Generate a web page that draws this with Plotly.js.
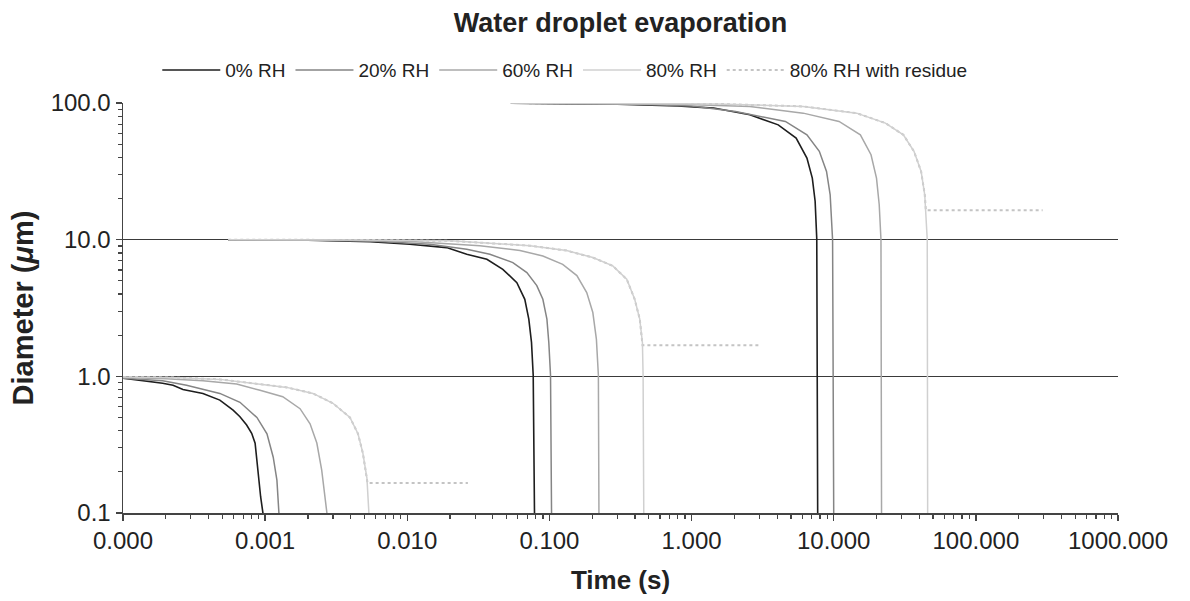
<!DOCTYPE html>
<html>
<head>
<meta charset="utf-8">
<script src="https://cdn.plot.ly/plotly-3.0.1.min.js"></script>
<style>html,body{margin:0;padding:0;background:#fff;}#chart{width:1190px;height:601px;}</style>
</head>
<body>
<div id="chart"></div>
<script>
// ---- Data (time in s, diameter in µm) ----
const seriesNames = ['0% RH', '20% RH', '60% RH', '80% RH', '80% RH with residue'];

// 1 µm initial diameter
const t_1um_rh0  = [1e-4, 1.4e-4, 1.9e-4, 2.25e-4, 2.64e-4, 3.65e-4, 4.8e-4, 5.95e-4, 6.65e-4, 7.41e-4, 8.04e-4, 8.5e-4, 8.7e-4, 8.93e-4, 9.3e-4, 9.65e-4, 9.8e-4];
const d_1um_rh0  = [0.97, 0.93, 0.89, 0.86, 0.80, 0.75, 0.67, 0.565, 0.506, 0.44, 0.383, 0.324, 0.258, 0.185, 0.131, 0.10, 0.05];
const t_1um_rh20 = [1e-4, 1.9e-4, 2.8e-4, 4.8e-4, 6.65e-4, 8.75e-4, 1.03e-3, 1.14e-3, 1.21e-3, 1.25e-3, 1.27e-3];
const d_1um_rh20 = [0.97, 0.93, 0.86, 0.75, 0.646, 0.50, 0.38, 0.256, 0.174, 0.10, 0.05];
const t_1um_rh60 = [1e-4, 2.0e-4, 3.65e-4, 6.3e-4, 9.2e-4, 1.33e-3, 1.76e-3, 2.07e-3, 2.31e-3, 2.5e-3, 2.72e-3, 2.75e-3];
const d_1um_rh60 = [0.98, 0.96, 0.93, 0.88, 0.79, 0.71, 0.58, 0.45, 0.325, 0.206, 0.10, 0.05];
const t_1um_rh80 = [1e-4, 2.2e-4, 4.8e-4, 8.2e-4, 1.42e-3, 2.17e-3, 3.0e-3, 3.95e-3, 4.5e-3, 4.87e-3, 5.2e-3, 5.37e-3, 5.4e-3];
const d_1um_rh80 = [0.99, 0.98, 0.95, 0.89, 0.83, 0.75, 0.635, 0.50, 0.38, 0.274, 0.18, 0.10, 0.05];
const t_1um_res  = [1e-4, 2.2e-4, 4.8e-4, 8.2e-4, 1.42e-3, 2.17e-3, 3.0e-3, 3.95e-3, 4.5e-3, 4.87e-3, 5.25e-3, 2.67e-2];
const d_1um_res  = [0.99, 0.98, 0.95, 0.89, 0.83, 0.75, 0.635, 0.50, 0.38, 0.274, 0.166, 0.166];

// 10 µm initial diameter
const t_10um_rh0  = [5.5e-4, 2e-3, 5.5e-3, 0.0104, 0.0189, 0.0262, 0.0363, 0.047, 0.059, 0.0671, 0.0716, 0.0748, 0.0769, 0.0789, 0.079];
const d_10um_rh0  = [9.97, 9.9, 9.65, 9.25, 8.75, 7.82, 7.18, 6.07, 4.85, 3.66, 2.62, 1.77, 1.02, 0.10, 0.05];
const t_10um_rh20 = [5.5e-4, 2e-3, 6e-3, 0.0144, 0.0262, 0.0381, 0.0553, 0.0694, 0.0815, 0.0899, 0.096, 0.099, 0.1018, 0.1035, 0.104];
const d_10um_rh20 = [9.98, 9.93, 9.75, 9.25, 8.5, 7.82, 6.8, 5.74, 4.61, 3.66, 2.62, 1.77, 1.02, 0.10, 0.05];
const t_10um_rh60 = [5.5e-4, 3e-3, 0.01, 0.0324, 0.062, 0.0899, 0.124, 0.156, 0.183, 0.202, 0.214, 0.221, 0.223, 0.224];
const d_10um_rh60 = [9.98, 9.95, 9.75, 9.04, 8.32, 7.6, 6.6, 5.46, 4.1, 2.93, 1.87, 1.02, 0.10, 0.05];
const t_10um_rh80 = [5.5e-4, 5e-3, 0.02, 0.0728, 0.132, 0.202, 0.279, 0.35, 0.398, 0.432, 0.451, 0.456, 0.461, 0.462];
const d_10um_rh80 = [9.99, 9.95, 9.8, 9.04, 8.32, 7.4, 6.43, 5.13, 3.66, 2.62, 1.77, 1.02, 0.10, 0.05];
const t_10um_res  = [5.5e-4, 5e-3, 0.02, 0.0728, 0.132, 0.202, 0.279, 0.35, 0.398, 0.432, 0.452, 3.02];
const d_10um_res  = [9.99, 9.95, 9.8, 9.04, 8.32, 7.4, 6.43, 5.13, 3.66, 2.62, 1.69, 1.69];

// 100 µm initial diameter
const t_100um_rh0  = [0.0536, 0.3, 0.8, 1.43, 2.57, 4.07, 5.44, 6.48, 7.07, 7.4, 7.6, 7.72, 7.73];
const d_100um_rh0  = [99.6, 98, 95, 91.8, 82, 69.2, 55.4, 39.5, 28.2, 19.1, 10.1, 0.10, 0.05];
const t_100um_rh20 = [0.0536, 0.4, 1.0, 2.04, 4.57, 6.48, 7.92, 8.9, 9.44, 9.82, 10.0, 10.02];
const d_100um_rh20 = [99.7, 98, 95, 86.7, 73.3, 58.5, 44.3, 31.6, 21.3, 10, 0.10, 0.05];
const t_100um_rh60 = [0.0536, 0.8, 2.57, 6.1, 10.9, 15.4, 18.3, 20.0, 20.9, 21.5, 21.7, 21.75];
const d_100um_rh60 = [99.8, 98, 94.4, 84.3, 73.3, 58.5, 41.8, 28.2, 18, 10, 0.10, 0.05];
const t_100um_rh80 = [0.0536, 1.5, 6.1, 14.5, 23.1, 30.9, 36.7, 41.2, 43.7, 45.5, 45.8, 45.85];
const d_100um_rh80 = [99.9, 98.5, 94.4, 84.3, 71.3, 58.5, 44.3, 31.6, 21.3, 10, 0.10, 0.05];
const t_100um_res  = [0.0536, 1.5, 6.1, 14.5, 23.1, 30.9, 36.7, 41.2, 43.7, 44.5, 295];
const d_100um_res  = [99.9, 98.5, 94.4, 84.3, 71.3, 58.5, 44.3, 31.6, 21.3, 16.4, 16.4];

const xTickFormat = '.3f';
const yTickFormat = '.1f';

// ---- Build traces: one per legend entry, droplet sizes separated by gaps ----
function join(parts) {
  const out = [];
  parts.forEach((p, i) => { if (i > 0) out.push(null); out.push(...p); });
  return out;
}
const groups = [
  [[t_1um_rh0, t_10um_rh0, t_100um_rh0], [d_1um_rh0, d_10um_rh0, d_100um_rh0]],
  [[t_1um_rh20, t_10um_rh20, t_100um_rh20], [d_1um_rh20, d_10um_rh20, d_100um_rh20]],
  [[t_1um_rh60, t_10um_rh60, t_100um_rh60], [d_1um_rh60, d_10um_rh60, d_100um_rh60]],
  [[t_1um_rh80, t_10um_rh80, t_100um_rh80], [d_1um_rh80, d_10um_rh80, d_100um_rh80]],
  [[t_1um_res, t_10um_res, t_100um_res], [d_1um_res, d_10um_res, d_100um_res]]
];
const styles = [
  {color: '#1e1e1e', width: 1.6, dash: 'solid'},
  {color: '#858585', width: 1.5, dash: 'solid'},
  {color: '#a8a8a8', width: 1.5, dash: 'solid'},
  {color: '#d0d0d0', width: 1.5, dash: 'solid'},
  {color: '#c4c4c4', width: 2, dash: 'dot'}
];
const traces = groups.map((g, i) => ({
  type: 'scatter', mode: 'lines',
  name: seriesNames[i],
  x: join(g[0]), y: join(g[1]),
  connectgaps: false,
  line: styles[i],
  legendrank: i + 1,
  hoverinfo: 'skip'
}));
// draw residue first so solid curves sit on top
const data = [traces[4], traces[0], traces[1], traces[2], traces[3]];

const FONT = 'Liberation Sans, Arial, Helvetica, sans-serif';
const layout = {
  width: 1190, height: 601,
  margin: {l: 123, r: 72, t: 103, b: 88},
  paper_bgcolor: '#fff', plot_bgcolor: '#fff',
  font: {family: FONT, color: '#222'},
  title: {text: 'Water droplet evaporation', font: {size: 27, family: FONT, color: '#222', weight: 'bold'},
          x: 0.5, xref: 'paper', y: 0.963, yref: 'container', yanchor: 'middle'},
  showlegend: true,
  legend: {orientation: 'h', x: 0.444, xanchor: 'center', y: 1.08, yanchor: 'middle',
           font: {size: 19, family: FONT, color: '#222'}, itemwidth: 58, traceorder: 'normal'},
  xaxis: {
    type: 'log', range: [-4, 3], dtick: 1, tickformat: xTickFormat,
    ticks: 'outside', ticklen: 6, tickwidth: 1.3, tickcolor: '#444',
    showline: true, linecolor: '#444', linewidth: 1.5,
    showgrid: false, zeroline: false,
    minor: {ticks: 'outside', ticklen: 4, tickwidth: 1.2, tickcolor: '#444', dtick: 'D1', showgrid: false},
    tickfont: {size: 24, family: FONT, color: '#222'},
    title: {text: 'Time (s)', font: {size: 26, family: FONT, color: '#222', weight: 'bold'}, standoff: 17}
  },
  yaxis: {
    type: 'log', range: [-1, 2], dtick: 1, tickformat: yTickFormat,
    ticks: 'outside', ticklen: 6, tickwidth: 1.3, tickcolor: '#444',
    showline: true, linecolor: '#444', linewidth: 1.5,
    showgrid: true, gridcolor: '#3a3a3a', gridwidth: 1.2, zeroline: false,
    minor: {ticks: 'outside', ticklen: 4, tickwidth: 1.2, tickcolor: '#444', dtick: 'D1', showgrid: false},
    tickfont: {size: 24, family: FONT, color: '#222'},
    title: {text: 'Diameter (<i>μ</i>m)', font: {size: 29, family: FONT, color: '#222', weight: 'bold'}, standoff: 8}
  },
  xaxis2: {type: 'log', range: [-4, 3], overlaying: 'x', side: 'top', anchor: 'y',
           showline: true, linecolor: '#9a9a9a', linewidth: 1.2, ticks: '', showticklabels: false, showgrid: false, zeroline: false},
  yaxis2: {type: 'log', range: [-1, 2], overlaying: 'y', side: 'right', anchor: 'x',
           showline: true, linecolor: '#9a9a9a', linewidth: 1.2, ticks: '', showticklabels: false, showgrid: false, zeroline: false}
};

Plotly.newPlot('chart', data, layout, {staticPlot: true, displayModeBar: false});
</script>
</body>
</html>
